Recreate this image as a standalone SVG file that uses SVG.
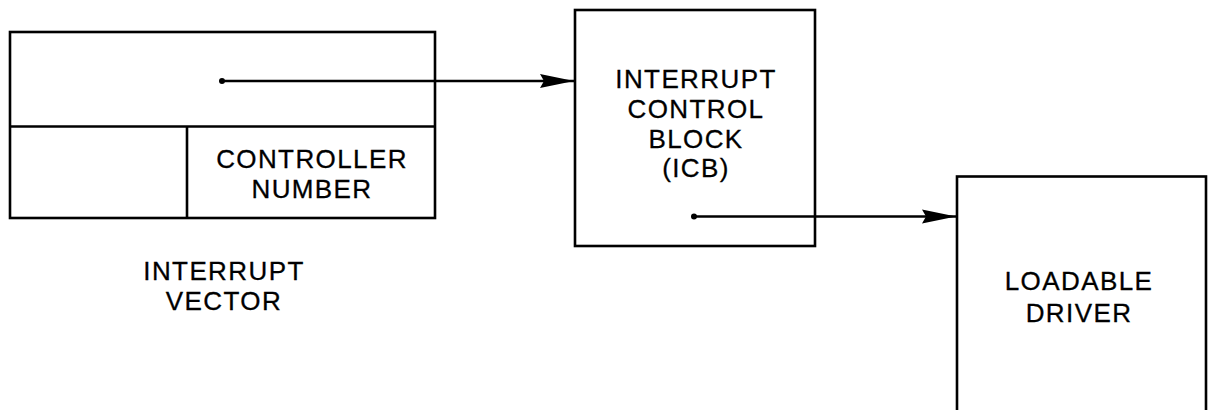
<svg xmlns="http://www.w3.org/2000/svg" width="1208" height="410" viewBox="0 0 1208 410">
<style>
.box{fill:none;stroke:#000;stroke-width:2.6}
.ln{fill:none;stroke:#000;stroke-width:2.6}
.t{font-family:"Liberation Sans",Arial,sans-serif;font-size:26px;letter-spacing:1.4px;fill:#000;stroke:#000;stroke-width:0.3;text-anchor:middle}
</style>
<defs>
<marker id="ah" markerUnits="userSpaceOnUse" markerWidth="36" markerHeight="16" refX="34" refY="8" orient="auto">
<path d="M0,1 L34,8 L0,15 L4,8 Z" fill="#000"/>
</marker>
</defs>
<rect width="1208" height="410" fill="#fff"/>
<g id="interrupt-vector">
<rect class="box" x="10" y="32" width="425" height="186"/>
<line class="ln" x1="10" y1="126.5" x2="435" y2="126.5"/>
<line class="ln" x1="187" y1="126.5" x2="187" y2="218"/>
<text class="t" x="312" y="168">CONTROLLER</text>
<text class="t" x="312" y="198">NUMBER</text>
<text class="t" x="224" y="280">INTERRUPT</text>
<text class="t" x="224" y="310">VECTOR</text>
</g>
<g id="icb">
<rect class="box" x="575" y="10" width="240" height="236"/>
<text class="t" x="696" y="88">INTERRUPT</text>
<text class="t" x="696" y="118">CONTROL</text>
<text class="t" x="696" y="148">BLOCK</text>
<text class="t" x="696" y="177">(ICB)</text>
</g>
<g id="loadable-driver">
<rect class="box" x="957" y="176.5" width="249" height="260"/>
<text class="t" x="1079" y="290">LOADABLE</text>
<text class="t" x="1079" y="322">DRIVER</text>
</g>
<g id="connectors">
<circle cx="222" cy="81" r="3"/>
<line class="ln" x1="222" y1="81" x2="574" y2="81" marker-end="url(#ah)"/>
<circle cx="694" cy="216.5" r="3"/>
<line class="ln" x1="694" y1="216.5" x2="956" y2="216.5" marker-end="url(#ah)"/>
</g>
</svg>
